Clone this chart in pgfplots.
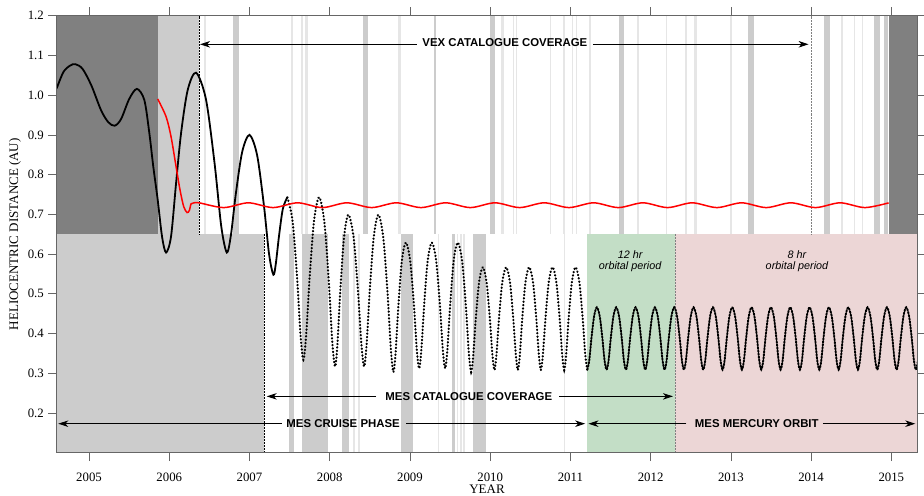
\documentclass[border=0pt]{standalone}
\usepackage{fontspec}
\setmainfont{Liberation Serif}
\newfontfamily\sansf{Liberation Sans}
\usepackage{pgfplots}
\pgfplotsset{compat=1.18}
\usetikzlibrary{arrows.meta}

\definecolor{dgray}{RGB}{128,128,128}
\definecolor{lgray}{RGB}{204,204,204}
\definecolor{fgray}{RGB}{230,230,230}
\definecolor{mgreen}{RGB}{195,222,198}
\definecolor{mpink}{RGB}{236,214,214}

\newcommand{\tickf}{\fontsize{12.8bp}{14bp}\selectfont}
\newcommand{\labf}{\fontsize{13bp}{15bp}\selectfont}
\newcommand{\annb}{\sansf\bfseries\fontsize{11.4bp}{13bp}\selectfont}
\newcommand{\anni}{\sansf\itshape\fontsize{10.8bp}{12bp}\selectfont}

\newcommand{\bandrect}[5]{\addplot[draw=none,fill=#1,forget plot] coordinates {(#2,#4) (#3,#4) (#3,#5) (#2,#5)} -- cycle;}
\newcommand{\topg}[2]{\bandrect{lgray}{#1}{#2}{0.65}{1.2}}
\newcommand{\topf}[2]{\bandrect{fgray}{#1}{#2}{0.65}{1.2}}
\newcommand{\botg}[2]{\bandrect{lgray}{#1}{#2}{0.1}{0.65}}
\newcommand{\botf}[2]{\bandrect{fgray}{#1}{#2}{0.1}{0.65}}

\begin{document}
\begin{tikzpicture}
\useasboundingbox (-56.7bp,-43.3bp) rectangle (867.3bp,452.7bp);
\begin{axis}[
  at={(0,0)}, anchor=south west,
  scale only axis, width=860.6bp, height=437bp,
  xmin=2004.597, xmax=2015.324, ymin=0.1, ymax=1.2,
  axis on top,
  xtick={2005,2006,2007,2008,2009,2010,2011,2012,2013,2014,2015},
  ytick={0.2,0.3,0.4,0.5,0.6,0.7,0.8,0.9,1.0,1.1,1.2},
  tick align=outside,
  major tick length=8.4bp,
  axis line style={black!60, line width=0.6bp},
  tick style={black!60, line width=0.6bp},
  /pgf/number format/assume math mode=true,
  x tick label style={/pgf/number format/1000 sep={}, font=\tickf, yshift=-8bp},
  y tick label style={/pgf/number format/.cd, fixed, fixed zerofill, precision=1, /tikz/.cd, font=\tickf, xshift=-1bp},
  xlabel={YEAR}, ylabel={HELIOCENTRIC DISTANCE (AU)},
  label style={font=\labf},
  xlabel style={at={(axis description cs:0.5,-0.094)}, anchor=base},
  ylabel style={at={(axis description cs:-0.0485,0.5)}, anchor=center},
]
% background regions
\bandrect{dgray}{2004.5}{2005.856}{0.65}{1.25}
\bandrect{lgray}{2005.856}{2006.37}{0.65}{1.25}
\bandrect{dgray}{2014.966}{2015.4}{0.65}{1.25}
\bandrect{lgray}{2004.5}{2007.186}{0.05}{0.65}
\bandrect{mgreen}{2011.21}{2012.306}{0.05}{0.65}
\bandrect{mpink}{2012.306}{2015.4}{0.05}{0.65}
% top band stripes
\topf{2006.434}{2006.455}
\topg{2006.791}{2006.866}
\topf{2007.518}{2007.537}
\topf{2007.643}{2007.668}
\topf{2007.687}{2007.724}
\topg{2008.412}{2008.475}
\topf{2008.857}{2008.886}
\topg{2009.298}{2009.326}
\topg{2009.993}{2010.066}
\topf{2010.137}{2010.168}
\topf{2010.280}{2010.292}
\topf{2010.318}{2010.333}
\topf{2010.742}{2010.754}
\topf{2010.906}{2010.931}
\topf{2011.022}{2011.034}
\topf{2011.066}{2011.078}
\topf{2011.226}{2011.255}
\topg{2011.600}{2011.674}
\topf{2011.836}{2011.857}
\topf{2012.194}{2012.210}
\topf{2012.431}{2012.452}
\topf{2012.535}{2012.577}
\topf{2012.992}{2013.011}
\topg{2013.208}{2013.283}
\topg{2014.156}{2014.240}
\topf{2014.372}{2014.392}
\topf{2014.530}{2014.551}
\topf{2014.634}{2014.647}
\topg{2014.788}{2014.862}
\topg{2014.913}{2014.954}
% bottom band stripes
\botg{2007.497}{2007.556}
\botg{2007.652}{2007.976}
\botg{2008.154}{2008.245}
\botf{2008.295}{2008.316}
\botf{2008.348}{2008.379}
\botg{2008.890}{2009.036}
\botf{2009.351}{2009.363}
\botg{2009.522}{2009.557}
\botf{2009.585}{2009.601}
\botf{2009.626}{2009.644}
\botf{2009.663}{2009.688}
\botg{2009.784}{2009.946}
\botf{2010.922}{2010.935}
% dotted boundaries
\addplot[black, densely dotted, line width=0.5bp, forget plot] coordinates {(2006.37,0.65) (2006.37,1.2)};
\addplot[black!50, densely dotted, line width=0.5bp, forget plot] coordinates {(2014.0,0.65) (2014.0,1.2)};
\addplot[black, densely dotted, line width=0.5bp, forget plot] coordinates {(2007.186,0.1) (2007.186,0.65)};
\addplot[black!50, densely dotted, line width=0.5bp, forget plot] coordinates {(2012.306,0.1) (2012.306,0.65)};
% MESSENGER: launch and early cruise
\addplot[black, line width=1.8bp, smooth, forget plot] coordinates {
(2004.597,1.017) (2004.68,1.058) (2004.76,1.074) (2004.829,1.078) (2004.92,1.066)
(2005.03,1.024) (2005.15,0.962) (2005.24,0.932) (2005.32,0.923) (2005.40,0.940)
(2005.50,0.990) (2005.596,1.0157) (2005.689,0.988) (2005.752,0.904) (2005.801,0.820)
(2005.856,0.7365) (2005.91,0.644) (2005.96,0.604) (2006.022,0.644) (2006.085,0.7785)
(2006.147,0.904) (2006.23,1.013) (2006.334,1.0566) (2006.457,0.990) (2006.564,0.830)
(2006.648,0.670) (2006.717,0.604) (2006.768,0.647) (2006.830,0.752) (2006.909,0.857)
(2007.0,0.90) (2007.095,0.849) (2007.179,0.724) (2007.244,0.600) (2007.298,0.548)
(2007.329,0.577) (2007.368,0.6455) (2007.416,0.714) (2007.472,0.743)};
% MESSENGER: cruise (dotted sampling)
\addplot[black, line width=2.2bp, line cap=round, dash pattern=on 0.4bp off 3.0bp, smooth, forget plot] coordinates {
(2007.472,0.743) (2007.537,0.683) (2007.594,0.5385) (2007.637,0.394) (2007.672,0.334)
(2007.706,0.394) (2007.749,0.5385) (2007.804,0.683) (2007.868,0.743)
(2007.933,0.681) (2007.989,0.530) (2008.032,0.379) (2008.067,0.317)
(2008.096,0.373) (2008.132,0.508) (2008.179,0.643) (2008.233,0.699)
(2008.297,0.643) (2008.352,0.508) (2008.395,0.373) (2008.429,0.317)
(2008.460,0.373) (2008.499,0.508) (2008.549,0.643) (2008.607,0.699)
(2008.668,0.641) (2008.721,0.501) (2008.762,0.361) (2008.794,0.303)
(2008.821,0.351) (2008.855,0.466) (2008.898,0.581) (2008.949,0.629)
(2009.003,0.583) (2009.050,0.4705) (2009.086,0.358) (2009.115,0.312)
(2009.142,0.358) (2009.177,0.4705) (2009.221,0.583) (2009.273,0.629)
(2009.327,0.583) (2009.374,0.4705) (2009.410,0.358) (2009.439,0.312)
(2009.466,0.358) (2009.501,0.4705) (2009.545,0.583) (2009.597,0.629)
(2009.651,0.581) (2009.698,0.466) (2009.734,0.351) (2009.763,0.303)
(2009.788,0.342) (2009.820,0.435) (2009.861,0.528) (2009.908,0.567)
(2009.955,0.529) (2009.996,0.4375) (2010.028,0.346) (2010.053,0.308)
(2010.078,0.346) (2010.110,0.4375) (2010.151,0.529) (2010.199,0.567)
(2010.247,0.529) (2010.288,0.4375) (2010.320,0.346) (2010.345,0.308)
(2010.370,0.346) (2010.400,0.4375) (2010.440,0.529) (2010.486,0.567)
(2010.534,0.529) (2010.575,0.4375) (2010.607,0.346) (2010.632,0.308)
(2010.657,0.346) (2010.689,0.4375) (2010.730,0.529) (2010.777,0.567)
(2010.825,0.529) (2010.866,0.4375) (2010.898,0.346) (2010.923,0.308)
(2010.947,0.346) (2010.978,0.4375) (2011.018,0.529) (2011.064,0.567)
(2011.112,0.529) (2011.153,0.438) (2011.185,0.347) (2011.210,0.309)};
% MESSENGER: Mercury orbit
\addplot[black, line width=1.9bp, line cap=round, dash pattern=on 1.6bp off 1.5bp, smooth, forget plot] coordinates {
(2011.210,0.309) (2011.235,0.332) (2011.262,0.3875) (2011.295,0.443) (2011.330,0.466) (2011.366,0.443) (2011.399,0.3875) (2011.426,0.332)
(2011.451,0.309) (2011.476,0.332) (2011.503,0.3875) (2011.536,0.443) (2011.571,0.466) (2011.607,0.443) (2011.640,0.3875) (2011.667,0.332)
(2011.692,0.309) (2011.717,0.332) (2011.744,0.3875) (2011.777,0.443) (2011.812,0.466) (2011.848,0.443) (2011.881,0.3875) (2011.908,0.332)
(2011.933,0.309) (2011.958,0.332) (2011.985,0.3875) (2012.018,0.443) (2012.053,0.466) (2012.089,0.443) (2012.122,0.3875) (2012.149,0.332)
(2012.174,0.309) (2012.199,0.332) (2012.226,0.3875) (2012.259,0.443) (2012.294,0.466) (2012.330,0.443) (2012.363,0.3875) (2012.390,0.332)
(2012.415,0.309) (2012.440,0.332) (2012.467,0.3875) (2012.500,0.443) (2012.535,0.466) (2012.571,0.443) (2012.604,0.3875) (2012.631,0.332)
(2012.656,0.309) (2012.681,0.332) (2012.708,0.3875) (2012.741,0.443) (2012.776,0.466) (2012.812,0.443) (2012.845,0.3875) (2012.872,0.332)
(2012.897,0.309) (2012.922,0.332) (2012.949,0.3875) (2012.982,0.443) (2013.017,0.466) (2013.053,0.443) (2013.086,0.3875) (2013.113,0.332)
(2013.138,0.309) (2013.163,0.332) (2013.190,0.3875) (2013.223,0.443) (2013.258,0.466) (2013.294,0.443) (2013.327,0.3875) (2013.354,0.332)
(2013.379,0.309) (2013.404,0.332) (2013.431,0.3875) (2013.464,0.443) (2013.499,0.466) (2013.535,0.443) (2013.568,0.3875) (2013.595,0.332)
(2013.620,0.309) (2013.645,0.332) (2013.672,0.3875) (2013.705,0.443) (2013.740,0.466) (2013.776,0.443) (2013.809,0.3875) (2013.836,0.332)
(2013.861,0.309) (2013.886,0.332) (2013.913,0.3875) (2013.946,0.443) (2013.981,0.466) (2014.017,0.443) (2014.050,0.3875) (2014.077,0.332)
(2014.102,0.309) (2014.127,0.332) (2014.154,0.3875) (2014.187,0.443) (2014.222,0.466) (2014.258,0.443) (2014.291,0.3875) (2014.318,0.332)
(2014.343,0.309) (2014.368,0.332) (2014.395,0.3875) (2014.428,0.443) (2014.463,0.466) (2014.499,0.443) (2014.532,0.3875) (2014.559,0.332)
(2014.584,0.309) (2014.609,0.332) (2014.636,0.3875) (2014.669,0.443) (2014.704,0.466) (2014.740,0.443) (2014.773,0.3875) (2014.800,0.332)
(2014.825,0.309) (2014.850,0.332) (2014.877,0.3875) (2014.910,0.443) (2014.945,0.466) (2014.981,0.443) (2015.014,0.3875) (2015.041,0.332)
(2015.066,0.309) (2015.091,0.332) (2015.118,0.3875) (2015.151,0.443) (2015.186,0.466) (2015.222,0.443) (2015.255,0.3875) (2015.282,0.332)
(2015.307,0.309) (2015.332,0.332) (2015.359,0.3875)};
% Venus
\addplot[red, line width=1.5bp, smooth, forget plot] coordinates {
(2005.856,0.9905) (2005.96,0.946) (2006.022,0.8957) (2006.085,0.820) (2006.134,0.7616)
(2006.18,0.7196) (2006.222,0.7045) (2006.25,0.7096) (2006.272,0.7264) (2006.30,0.7285)
(2006.371,0.729) (2006.679,0.717) (2006.986,0.729) (2007.294,0.717) (2007.601,0.729)
(2007.908,0.717) (2008.215,0.729) (2008.523,0.717) (2008.830,0.729) (2009.138,0.717)
(2009.445,0.729) (2009.753,0.717) (2010.060,0.729) (2010.367,0.717) (2010.674,0.729)
(2010.982,0.717) (2011.289,0.729) (2011.597,0.717) (2011.904,0.729) (2012.211,0.717)
(2012.518,0.729) (2012.826,0.717) (2013.133,0.729) (2013.441,0.717) (2013.748,0.729)
(2014.055,0.717) (2014.362,0.729) (2014.670,0.717) (2014.966,0.7288)};
% annotations
\tikzset{arr/.style={black, line width=0.9bp, -{Stealth[length=10bp,width=6.5bp,inset=3bp]}}}
\node[font=\annb, anchor=center] at (axis cs:2010.183,1.1335) {VEX CATALOGUE COVERAGE};
\draw[arr] (axis cs:2009.086,1.128) -- (axis cs:2006.384,1.128);
\draw[arr] (axis cs:2011.280,1.128) -- (axis cs:2013.969,1.128);
\node[font=\annb, anchor=center] at (axis cs:2009.734,0.2418) {MES CATALOGUE COVERAGE};
\draw[arr] (axis cs:2008.578,0.2418) -- (axis cs:2007.215,0.2418);
\draw[arr] (axis cs:2010.864,0.2418) -- (axis cs:2012.278,0.2418);
\node[font=\annb, anchor=center] at (axis cs:2008.167,0.173) {MES CRUISE PHASE};
\draw[arr] (axis cs:2007.402,0.173) -- (axis cs:2004.617,0.173);
\draw[arr] (axis cs:2008.952,0.173) -- (axis cs:2011.184,0.173);
\node[font=\annb, anchor=center] at (axis cs:2013.323,0.173) {MES MERCURY ORBIT};
\draw[arr] (axis cs:2012.444,0.173) -- (axis cs:2011.225,0.173);
\draw[arr] (axis cs:2014.148,0.173) -- (axis cs:2015.299,0.173);
\node[font=\anni, anchor=base] at (axis cs:2011.745,0.5898) {12 hr};
\node[font=\anni, anchor=base] at (axis cs:2011.745,0.5604) {orbital period};
\node[font=\anni, anchor=base] at (axis cs:2013.824,0.5898) {8 hr};
\node[font=\anni, anchor=base] at (axis cs:2013.824,0.5604) {orbital period};
\end{axis}
\end{tikzpicture}
\end{document}
